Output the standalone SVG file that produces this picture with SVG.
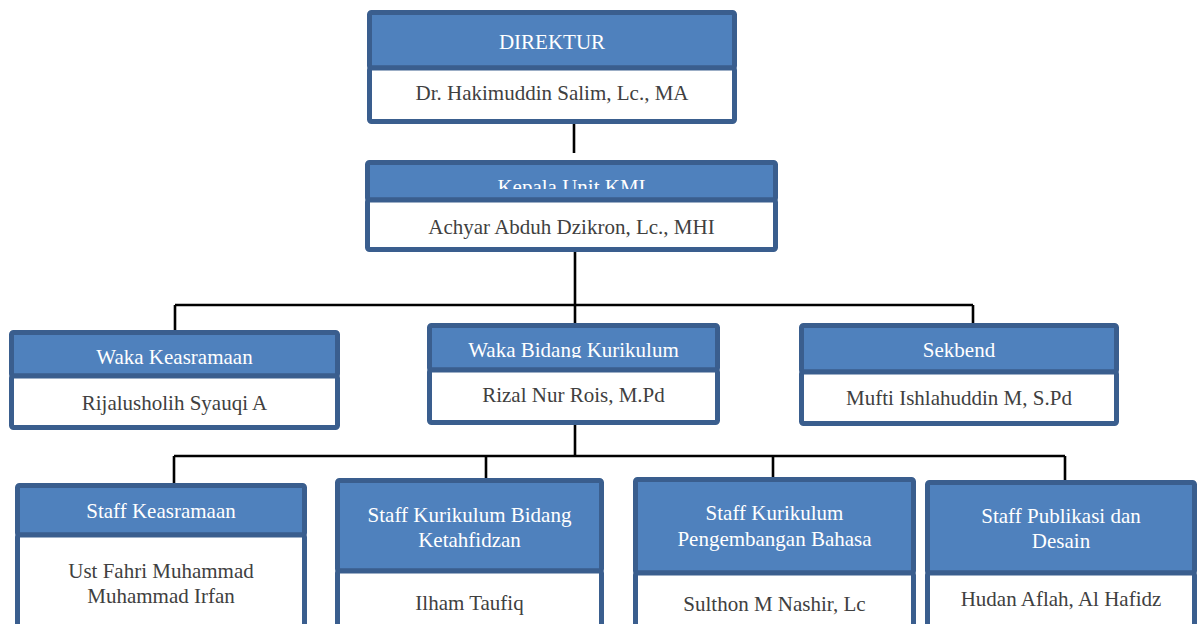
<svg xmlns="http://www.w3.org/2000/svg" width="1198" height="624" viewBox="0 0 1198 624">
<style>
.hd{fill:#4f81bd;stroke:#3a5e8e;stroke-width:5}
.bd{fill:#ffffff;stroke:#3a5e8e;stroke-width:5}
text{font-family:'Liberation Serif','DejaVu Serif',serif;font-size:21px;text-anchor:middle}
.ht{fill:#ffffff}
.nt{fill:#404040}
.ln{stroke:#000000;stroke-width:2.6;fill:none}
</style>
<defs>
<clipPath id="clipK"><rect x="367" y="160" width="410" height="29"/></clipPath>
<clipPath id="clipW"><rect x="429" y="323" width="290" height="35"/></clipPath>
</defs>
<rect width="1198" height="624" fill="#ffffff"/>
<g id="connectors">
<path class="ln" d="M574 124V153"/>
<path class="ln" d="M575 252V305M175 305H973M175 305V330M575 305V323M973 305V324"/>
<path class="ln" d="M575 425V456M174 456H1065M174 456V483M486 456V479M773 456V480M1065 456V480"/>
</g>
<g id="direktur">
<rect class="hd" x="369.5" y="12.5" width="365" height="55.5" rx="2"/>
<rect class="bd" x="369.5" y="68" width="365" height="53.5" rx="2"/>
<text class="ht" x="552" y="49" font-family="Liberation Serif, serif">DIREKTUR</text>
<text class="nt" x="552" y="100" font-family="Liberation Serif, serif">Dr. Hakimuddin Salim, Lc., MA</text>
</g>
<g id="kepala">
<rect class="hd" x="367.5" y="162.5" width="408" height="37.5" rx="2"/>
<rect class="bd" x="367.5" y="200" width="408" height="49.5" rx="2"/>
<text class="ht" x="571.5" y="194" clip-path="url(#clipK)">Kepala Unit KMI</text>
<text class="nt" x="571.5" y="234">Achyar Abduh Dzikron, Lc., MHI</text>
</g>
<g id="waka-keasramaan">
<rect class="hd" x="11.5" y="332.5" width="326" height="43.5" rx="2"/>
<rect class="bd" x="11.5" y="376" width="326" height="51.5" rx="2"/>
<text class="ht" x="174.5" y="364">Waka Keasramaan</text>
<text class="nt" x="174.5" y="410">Rijalusholih Syauqi A</text>
</g>
<g id="waka-kurikulum">
<rect class="hd" x="429.5" y="325.5" width="288" height="44.5" rx="2"/>
<rect class="bd" x="429.5" y="370" width="288" height="52.5" rx="2"/>
<text class="ht" x="573.5" y="357" clip-path="url(#clipW)">Waka Bidang Kurikulum</text>
<text class="nt" x="573.5" y="402">Rizal Nur Rois, M.Pd</text>
</g>
<g id="sekbend">
<rect class="hd" x="801.5" y="325.5" width="315" height="46.5" rx="2"/>
<rect class="bd" x="801.5" y="372" width="315" height="51.5" rx="2"/>
<text class="ht" x="959" y="357">Sekbend</text>
<text class="nt" x="959" y="405">Mufti Ishlahuddin M, S.Pd</text>
</g>
<g id="staff-keasramaan">
<rect class="hd" x="17.5" y="485.5" width="287" height="49.5" rx="2"/>
<rect class="bd" x="17.5" y="535" width="287" height="100" rx="2"/>
<text class="ht" x="161" y="518">Staff Keasramaan</text>
<text class="nt" x="161" y="578">Ust Fahri Muhammad</text>
<text class="nt" x="161" y="603">Muhammad Irfan</text>
</g>
<g id="staff-ketahfidzan">
<rect class="hd" x="337.5" y="480.5" width="264" height="90.5" rx="2"/>
<rect class="bd" x="337.5" y="571" width="264" height="100" rx="2"/>
<text class="ht" x="469.5" y="522">Staff Kurikulum Bidang</text>
<text class="ht" x="469.5" y="547">Ketahfidzan</text>
<text class="nt" x="469.5" y="610">Ilham Taufiq</text>
</g>
<g id="staff-bahasa">
<rect class="hd" x="635.5" y="479.5" width="278" height="93.5" rx="2"/>
<rect class="bd" x="635.5" y="573" width="278" height="100" rx="2"/>
<text class="ht" x="774.5" y="520">Staff Kurikulum</text>
<text class="ht" x="774.5" y="546">Pengembangan Bahasa</text>
<text class="nt" x="774.5" y="611">Sulthon M Nashir, Lc</text>
</g>
<g id="staff-publikasi">
<rect class="hd" x="927.5" y="482.5" width="267" height="90.5" rx="2"/>
<rect class="bd" x="927.5" y="573" width="267" height="100" rx="2"/>
<text class="ht" x="1061" y="523">Staff Publikasi dan</text>
<text class="ht" x="1061" y="548">Desain</text>
<text class="nt" x="1061" y="606">Hudan Aflah, Al Hafidz</text>
</g>
</svg>
